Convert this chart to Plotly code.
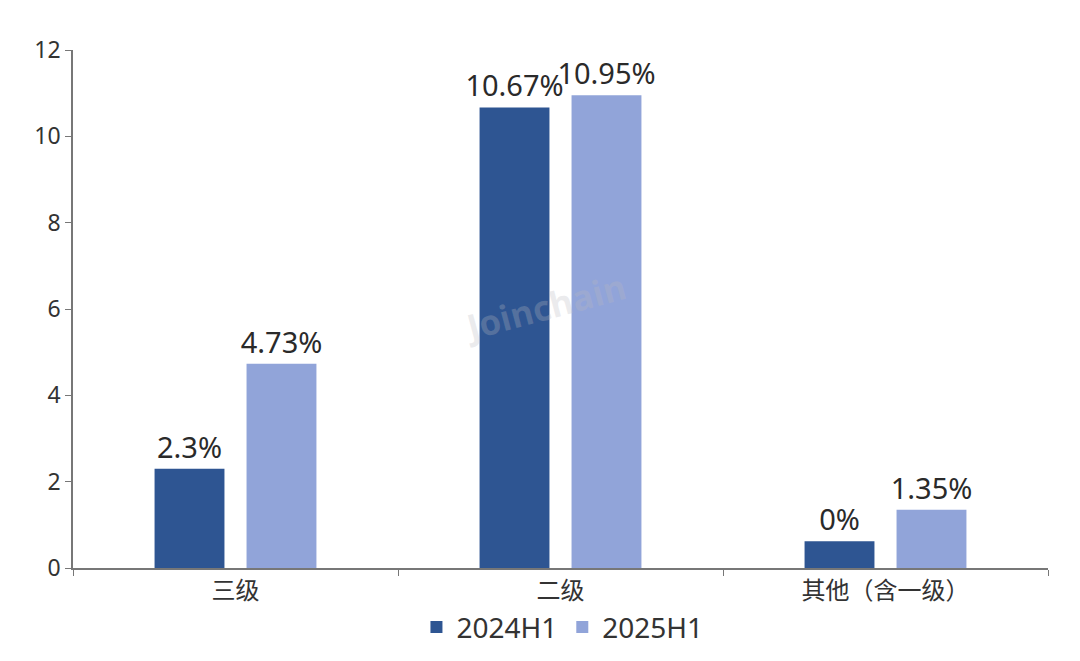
import plotly.graph_objects as go

categories = ["三级", "二级", "其他（含一级）"]
series_names = ["2024H1", "2025H1"]
values_2024 = [2.3, 10.67, 0.62]
labels_2024 = ["2.3%", "10.67%", "0%"]
values_2025 = [4.73, 10.95, 1.35]
labels_2025 = ["4.73%", "10.95%", "1.35%"]
y_ticks = [0, 2, 4, 6, 8, 10, 12]

colors = ["#2E5592", "#91A4D9"]
font_family = "Noto Sans, Open Sans, Noto Sans CJK SC, sans-serif"

fig = go.Figure()
for name, vals, labs, col in [
    (series_names[0], values_2024, labels_2024, colors[0]),
    (series_names[1], values_2025, labels_2025, colors[1]),
]:
    fig.add_trace(go.Bar(
        x=categories, y=vals, name=name, text=labs,
        textposition="outside", cliponaxis=False, constraintext="none",
        textfont=dict(size=29, color="#2a2a2a", family=font_family),
        marker=dict(color=col, line=dict(width=0)),
    ))

fig.add_annotation(
    text="<b>Joinchain</b>", x=0.484, y=0.505, xref="paper", yref="paper",
    showarrow=False, textangle=-15,
    font=dict(size=35, color="rgba(185,185,192,0.28)", family="Open Sans, sans-serif"),
)

fig.update_layout(
    width=1080, height=661,
    margin=dict(l=65, r=40, t=42, b=101, autoexpand=False),
    plot_bgcolor="white", paper_bgcolor="white",
    barmode="group", bargap=0.434, bargroupgap=0.24,
    font=dict(family=font_family, color="#333333", size=20),
    legend=dict(orientation="h", x=0.502, xanchor="center", y=-0.066, yanchor="top",
                font=dict(size=28, color="#333333"), itemwidth=30),
    showlegend=True,
)
fig.update_xaxes(
    showline=True, linecolor="#777777", linewidth=1.5, automargin=False,
    ticks="outside", tickson="boundaries", ticklen=6, tickcolor="#777777",
    tickfont=dict(size=24, color="#333333"), showgrid=False,
)
fig.update_yaxes(
    range=[0, 12], tickvals=y_ticks, showline=True, linecolor="#777777", linewidth=1.5,
    ticks="outside", ticklen=6, tickcolor="#777777", showgrid=False, zeroline=False,
    automargin=False, tickfont=dict(size=23, color="#333333"),
)

fig.write_html("out.html")
